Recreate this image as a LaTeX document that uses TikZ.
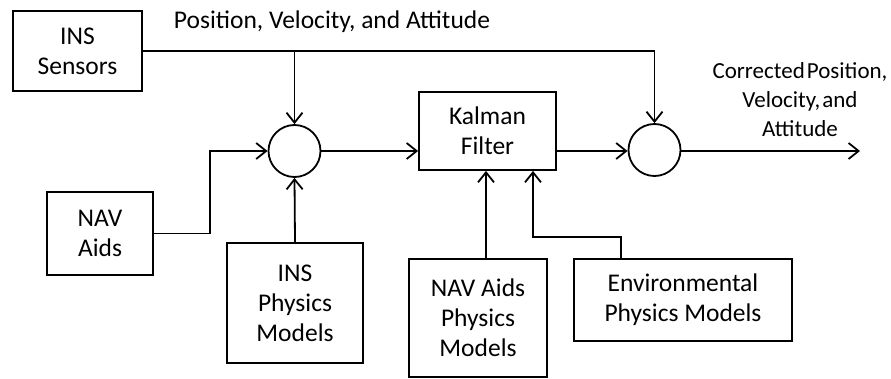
\documentclass[tikz,border=0pt]{standalone}
\usepackage{fontspec}
\setmainfont{Carlito}
\usetikzlibrary{arrows.meta}
\begin{document}
\begin{tikzpicture}[x=1pt,y=-1pt,
    block/.style={draw, line width=1.8pt, align=center, inner sep=0pt},
    sumnode/.style={draw, circle, line width=1.8pt, minimum size=52pt, inner sep=0pt},
    txt/.style={align=center, inner sep=0pt},
    flow/.style={line width=1.8pt, -{Straight Barb[length=10pt,width=16pt,line width=1.8pt]}},
    link/.style={line width=1.8pt},
    every node/.style={font=\fontsize{25.5}{30}\selectfont}]
        \useasboundingbox (0,0) rectangle (891,379);

        \node[block, minimum width=129pt, minimum height=80pt] (inssens) at (77.5, 51) {INS\\Sensors};
        \node[block, minimum width=106pt, minimum height=83pt] (navaids) at (100, 233.5) {NAV\\Aids};
        \node[block, minimum width=136pt, minimum height=120pt] (insphys) at (295, 303) {INS\\Physics\\Models};
        \node[block, minimum width=137pt, minimum height=78pt] (kalman) at (487.5, 131) {Kalman\\Filter};
        \node[block, minimum width=138pt, minimum height=118pt] (navphys) at (478, 318) {NAV Aids\\Physics\\Models};
        \node[block, minimum width=218pt, minimum height=82pt] (envphys) at (683, 300) {Environmental\\Physics Models};
        \node[sumnode] (sumA) at (294.5, 151) {};
        \node[sumnode] (sumB) at (654.5, 150) {};

        \node[txt] (pvalabel) at (332, 22) {Position, Velocity, and Attitude};
        \node[txt, font=\fontsize{23}{29}\selectfont] (outlabel) at (800, 100) {Corrected\hspace{2pt}Position,\\Velocity,\hspace{2pt}and\\Attitude};

        \coordinate (split) at (294.5, 51);
        \coordinate (corner) at (654.5, 51);
        \coordinate (out) at (860, 151);
        \coordinate (navbend) at (210, 233.5);
        \coordinate (envbend) at (621, 237);

        \draw[link] (inssens.east) -- (corner);
        \draw[flow] (split) -- (sumA.north);
        \draw[flow] (corner) -- (sumB.north);
        \draw[flow] (navaids.east) -- (navbend) |- (sumA.west);
        \draw[flow] (insphys.north) -- (sumA.south);
        \draw[flow] (sumA.east) -- (kalman.west |- sumA.east);
        \draw[flow] (kalman.east |- 0,151) -- (sumB.west |- 0,151);
        \draw[flow] (sumB.east |- 0,151) -- (out);
        \draw[flow] (navphys.north -| 486,0) -- (kalman.south -| 486,0);
        \draw[flow] (envphys.north -| envbend) -- (envbend) -| (kalman.south -| 533,0);

    \end{tikzpicture}
\end{document}
